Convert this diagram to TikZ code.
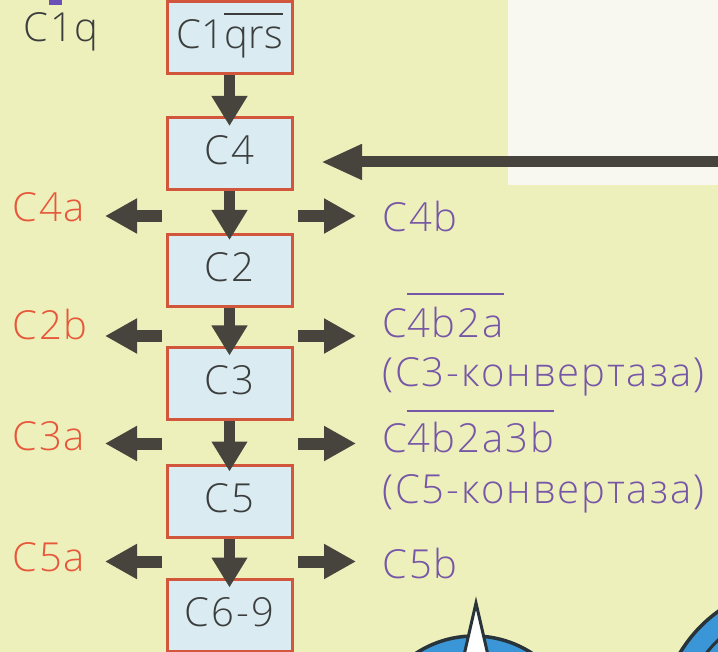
\documentclass[tikz,border=0pt]{standalone}
\usepackage{fontspec}
\setmainfont{Open Sans}[UprightFont=* Light, LetterSpace=5]
\usetikzlibrary{arrows.meta}

\definecolor{paper}{RGB}{238,240,188}
\definecolor{panel}{RGB}{248,247,240}
\definecolor{boxfill}{RGB}{218,236,242}
\definecolor{boxline}{RGB}{210,86,60}
\definecolor{ink}{RGB}{60,62,62}
\definecolor{arrowgray}{RGB}{70,68,60}
\definecolor{redlab}{RGB}{230,88,58}
\definecolor{purplelab}{RGB}{118,86,166}
\definecolor{bluedisc}{RGB}{58,150,214}
\definecolor{discline}{RGB}{40,52,58}
\definecolor{tagpurple}{RGB}{106,80,182}

% bar over a group of characters, raised by #1 above the baseline
\newcommand\ovbar[2]{\setbox0\hbox{#2}\rlap{\raisebox{#1}{\rule{\wd0}{1.8pt}}}\box0}

\begin{document}
\begin{tikzpicture}[x=1pt,y=-1pt,
  bigfont/.style={font=\fontsize{40}{47}\selectfont},
  lab/.style={bigfont, inner sep=0pt, anchor=base west},
  stage/.style={bigfont, draw=boxline, fill=boxfill, line width=3pt,
    minimum width=125pt, minimum height=72pt, inner sep=0pt, text=ink,
    text height=22pt, text depth=0pt},
  down/.style={draw=arrowgray, line width=11pt, -{Triangle[width=34pt,length=30pt]}},
  side/.style={draw=arrowgray, line width=12pt, -{Triangle[width=33pt,length=32pt]}},
  feedarrow/.style={draw=arrowgray, line width=11pt, -{Triangle[width=33pt,length=41pt]}},
]
\clip (0,0) rectangle (718,652);
\fill[paper] (0,0) rectangle (718,652);
\fill[panel] (508,0) rectangle (718,185);
\fill[tagpurple] (49,0) rectangle (62,5);

% discs at the lower right
\filldraw[fill=bluedisc, draw=discline, line width=3.5pt] (474,742) circle (106);
\filldraw[fill=bluedisc, draw=discline, line width=3.5pt] (800,725) circle (140);
\draw[discline, line width=3pt] (800,725) circle (118);
\filldraw[fill=white, draw=discline, line width=3pt, line join=miter]
  (476,603) -- (456,690) -- (496,690) -- cycle;

% cascade stages
\node[stage] (s1) at (229.5,38)    {\addfontfeature{LetterSpace=1}C1\ovbar{34pt}{qrs}};
\node[stage] (s2) at (229.5,153.5) {C4};
\node[stage] (s3) at (229.5,270.5) {C2};
\node[stage] (s4) at (229.5,384)   {C3};
\node[stage] (s5) at (229.5,501)   {C5};
\node[stage] (s6) at (229.5,615)   {C6-9};

\draw[down] (s1.south) -- ([yshift=-10pt]s2.north);
\draw[down] (s2.south) -- ([yshift=-7pt]s3.north);
\draw[down] (s3.south) -- ([yshift=-9pt]s4.north);
\draw[down] (s4.south) -- ([yshift=-8pt]s5.north);
\draw[down] (s5.south) -- ([yshift=-10pt]s6.north);

% input from the right
\coordinate (feed) at (718,162);
\coordinate (feedtip) at (321,162);
\draw[feedarrow] (feed) -- (feedtip);

% labels
\node[lab, text=ink] (c1q) at (23,42) {C1q};

\node[lab, text=redlab] (c4a) at (12,222) {C4a};
\node[lab, text=redlab] (c2b) at (12,340) {C2b};
\node[lab, text=redlab] (c3a) at (12,450) {C3a};
\node[lab, text=redlab] (c5a) at (12,571) {C5a};

\node[lab, text=purplelab] (c4b)  at (382,232) {C4b};
\node[lab, text=purplelab] (c3c)  at (382,338) {C\ovbar{43pt}{4b2a}};
\node[lab, text=purplelab] (c3cn) at (382,387) {(C3-конвертаза)};
\node[lab, text=purplelab] (c5c)  at (382,453) {C\ovbar{41pt}{4b2a3b}};
\node[lab, text=purplelab] (c5cn) at (382,503) {(C5-конвертаза)};
\node[lab, text=purplelab] (c5b)  at (382,578) {C5b};

% side products split off at each step
\foreach \r/\y in {1/216, 2/336, 3/443.5, 4/561.5}{
  \coordinate (lt\r) at (162,\y);
  \coordinate (lh\r) at (105,\y);
  \coordinate (rt\r) at (298,\y);
  \coordinate (rh\r) at (356,\y);
  \draw[side] (lt\r) -- (lh\r);
  \draw[side] (rt\r) -- (rh\r);
}
\end{tikzpicture}
\end{document}
